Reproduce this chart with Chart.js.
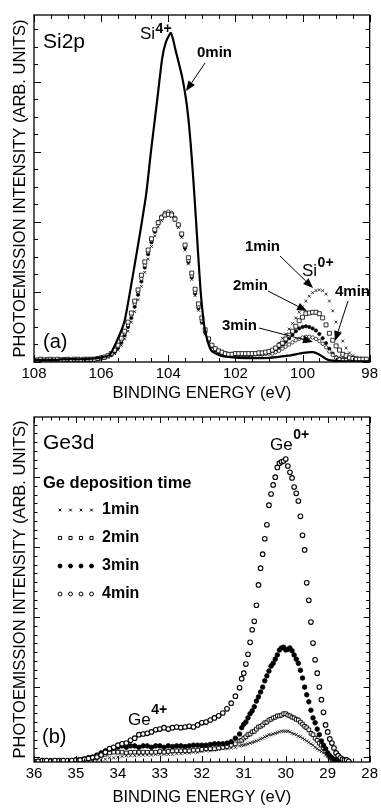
<!DOCTYPE html>
<html>
<head>
<meta charset="utf-8">
<title>Si2p / Ge3d photoemission</title>
<script src="https://cdn.jsdelivr.net/npm/chart.js@4.4.1/dist/chart.umd.min.js"></script>
<style>
  html, body { margin: 0; padding: 0; background: #fff; }
  canvas { display: block; }
</style>
</head>
<body>
<canvas id="si2p" width="381" height="405"></canvas>
<canvas id="ge3d" width="381" height="403"></canvas>
<script>
// ---------- panel (a): Si2p ----------
const siEnergy = [
  107.9, 107.8, 107.7, 107.6, 107.5, 107.4, 107.3, 107.2, 107.1, 107.0,
  106.9, 106.8, 106.7, 106.6, 106.5, 106.4, 106.3, 106.2, 106.1, 106.0,
  105.9, 105.8, 105.7, 105.6, 105.5, 105.4, 105.3, 105.2, 105.1, 105.0,
  104.9, 104.8, 104.7, 104.6, 104.5, 104.4, 104.3, 104.2, 104.1, 104.0,
  103.9, 103.8, 103.7, 103.6, 103.5, 103.4, 103.3, 103.2, 103.1, 103.0,
  102.9, 102.8, 102.7, 102.6, 102.5, 102.4, 102.3, 102.2, 102.1, 102.0,
  101.9, 101.8, 101.7, 101.6, 101.5, 101.4, 101.3, 101.2, 101.1, 101.0,
  100.9, 100.8, 100.7, 100.6, 100.5, 100.4, 100.3, 100.2, 100.1, 100.0,
  99.9, 99.8, 99.7, 99.6, 99.5, 99.4, 99.3, 99.2, 99.1, 99.0,
  98.9, 98.8, 98.7, 98.6, 98.5, 98.4, 98.3, 98.2, 98.1
];
const si1min = [
  0.03, 0.03, 0.04, 0.03, 0.03, 0.04, 0.03, 0.03, 0.04, 0.03,
  0.03, 0.04, 0.03, 0.03, 0.04, 0.03, 0.04, 0.04, 0.04, 0.05,
  0.06, 0.07, 0.09, 0.12, 0.17, 0.24, 0.33, 0.44, 0.57, 0.72,
  0.89, 1.08, 1.28, 1.47, 1.65, 1.80, 1.93, 2.02, 2.08, 2.10,
  2.08, 2.02, 1.92, 1.78, 1.60, 1.40, 1.18, 0.95, 0.74, 0.55,
  0.40, 0.29, 0.21, 0.16, 0.13, 0.12, 0.11, 0.10, 0.10, 0.10,
  0.10, 0.10, 0.10, 0.10, 0.11, 0.11, 0.11, 0.12, 0.13, 0.14,
  0.16, 0.21, 0.27, 0.34, 0.40, 0.47, 0.55, 0.63, 0.71, 0.79,
  0.87, 0.94, 0.99, 1.02, 1.03, 1.02, 0.97, 0.87, 0.73, 0.57,
  0.42, 0.30, 0.20, 0.13, 0.09, 0.07, 0.06, 0.05, 0.05
];
const si2min = [
  0.03, 0.04, 0.03, 0.03, 0.04, 0.03, 0.04, 0.03, 0.03, 0.04,
  0.03, 0.04, 0.04, 0.03, 0.04, 0.04, 0.04, 0.04, 0.05, 0.06,
  0.07, 0.09, 0.12, 0.17, 0.24, 0.34, 0.44, 0.57, 0.70, 0.87,
  1.03, 1.24, 1.43, 1.60, 1.76, 1.89, 1.99, 2.06, 2.10, 2.11,
  2.10, 2.04, 1.96, 1.83, 1.67, 1.49, 1.27, 1.04, 0.83, 0.63,
  0.46, 0.33, 0.24, 0.19, 0.16, 0.14, 0.12, 0.11, 0.11, 0.12,
  0.12, 0.12, 0.12, 0.12, 0.12, 0.12, 0.13, 0.13, 0.14, 0.15,
  0.17, 0.20, 0.24, 0.27, 0.33, 0.38, 0.44, 0.51, 0.59, 0.64,
  0.69, 0.70, 0.71, 0.71, 0.69, 0.63, 0.53, 0.41, 0.31, 0.23,
  0.17, 0.11, 0.09, 0.06, 0.05, 0.04, 0.04, 0.04, 0.04
];
const si3min = [
  0.02, 0.03, 0.03, 0.02, 0.03, 0.03, 0.02, 0.03, 0.03, 0.03,
  0.02, 0.03, 0.03, 0.03, 0.03, 0.03, 0.03, 0.04, 0.04, 0.05,
  0.06, 0.08, 0.10, 0.14, 0.20, 0.28, 0.38, 0.50, 0.63, 0.79,
  0.96, 1.15, 1.35, 1.54, 1.71, 1.86, 1.98, 2.07, 2.12, 2.14,
  2.12, 2.05, 1.95, 1.81, 1.63, 1.43, 1.21, 0.98, 0.77, 0.57,
  0.42, 0.30, 0.22, 0.17, 0.14, 0.12, 0.11, 0.10, 0.10, 0.10,
  0.10, 0.10, 0.10, 0.10, 0.10, 0.11, 0.11, 0.11, 0.12, 0.13,
  0.14, 0.17, 0.21, 0.25, 0.29, 0.34, 0.39, 0.44, 0.48, 0.50,
  0.51, 0.50, 0.48, 0.45, 0.40, 0.34, 0.27, 0.19, 0.12, 0.07,
  0.05, 0.04, 0.03, 0.03, 0.03, 0.03, 0.03, 0.03, 0.03
];
const si4min = [
  0.03, 0.03, 0.03, 0.04, 0.03, 0.03, 0.03, 0.03, 0.04, 0.03,
  0.03, 0.03, 0.04, 0.03, 0.03, 0.03, 0.04, 0.04, 0.05, 0.06,
  0.07, 0.09, 0.12, 0.16, 0.22, 0.31, 0.41, 0.53, 0.67, 0.83,
  1.00, 1.19, 1.38, 1.57, 1.74, 1.88, 2.00, 2.08, 2.13, 2.15,
  2.13, 2.06, 1.96, 1.82, 1.65, 1.45, 1.23, 1.00, 0.79, 0.59,
  0.43, 0.31, 0.23, 0.18, 0.15, 0.13, 0.12, 0.11, 0.11, 0.11,
  0.11, 0.11, 0.11, 0.11, 0.11, 0.11, 0.11, 0.11, 0.12, 0.12,
  0.12, 0.14, 0.16, 0.19, 0.22, 0.25, 0.28, 0.31, 0.33, 0.35,
  0.36, 0.36, 0.35, 0.33, 0.30, 0.26, 0.21, 0.15, 0.10, 0.06,
  0.04, 0.03, 0.03, 0.03, 0.03, 0.03, 0.03, 0.03, 0.03
];
// 0 min: solid line, read at irregular energies
const si0Energy = [108.0, 107.5, 107.0, 106.5, 106.05, 105.75, 105.54, 105.31, 105.13, 104.95,
  104.8, 104.66, 104.51, 104.33, 104.18, 104.07, 103.92, 103.77, 103.59, 103.47,
  103.38, 103.3, 103.21, 103.12, 103.03, 102.91, 102.73, 102.44, 101.9, 101.0,
  100.43, 99.98, 99.69, 99.48, 99.24, 98.8, 98.0];
const si0min = [0.03, 0.03, 0.04, 0.04, 0.06, 0.10, 0.29, 0.57, 1.03, 1.53,
  1.96, 2.39, 3.03, 3.74, 4.34, 4.57, 4.70, 4.43, 4.08, 3.75,
  3.38, 2.92, 2.30, 1.62, 0.98, 0.46, 0.17, 0.09, 0.06, 0.06,
  0.09, 0.13, 0.14, 0.10, 0.03, 0.01, 0.01];
const siTicks = [108, 106, 104, 102, 100, 98];

// ---------- panel (b): Ge3d ----------
const geEnergy = [
  36.0, 35.9, 35.8, 35.7, 35.6, 35.5, 35.4, 35.3, 35.2, 35.1,
  35.0, 34.9, 34.8, 34.7, 34.6, 34.5, 34.4, 34.3, 34.2, 34.1,
  34.0, 33.9, 33.8, 33.7, 33.6, 33.5, 33.4, 33.3, 33.2, 33.1,
  33.0, 32.9, 32.8, 32.7, 32.6, 32.5, 32.4, 32.3, 32.2, 32.1,
  32.0, 31.9, 31.8, 31.7, 31.6, 31.5, 31.4, 31.3, 31.2, 31.1,
  31.05, 31.0, 30.95, 30.9, 30.85, 30.8, 30.75, 30.7, 30.65, 30.6,
  30.55, 30.5, 30.45, 30.4, 30.35, 30.3, 30.25, 30.2, 30.15, 30.1,
  30.05, 30.0, 29.95, 29.9, 29.85, 29.8, 29.75, 29.7, 29.65, 29.6,
  29.55, 29.5, 29.45, 29.4, 29.35, 29.3, 29.25, 29.2, 29.15, 29.1,
  29.05, 29.0, 28.95, 28.9, 28.85, 28.8, 28.75, 28.7, 28.65, 28.6,
  28.55, 28.5
];
const ge1min = [
  0.01, 0.01, 0.01, 0.01, 0.01, 0.01, 0.01, 0.01, 0.01, 0.01,
  0.01, 0.01, 0.01, 0.01, 0.01, 0.01, 0.03, 0.04, 0.06, 0.06,
  0.07, 0.08, 0.09, 0.09, 0.09, 0.10, 0.10, 0.10, 0.10, 0.11,
  0.11, 0.11, 0.11, 0.11, 0.12, 0.12, 0.13, 0.13, 0.14, 0.14,
  0.15, 0.16, 0.16, 0.17, 0.18, 0.19, 0.19, 0.20, 0.21, 0.23,
  0.24, 0.24, 0.25, 0.26, 0.27, 0.28, 0.29, 0.30, 0.31, 0.33,
  0.34, 0.36, 0.37, 0.39, 0.39, 0.40, 0.41, 0.42, 0.43, 0.44,
  0.44, 0.44, 0.44, 0.43, 0.41, 0.40, 0.39, 0.37, 0.36, 0.34,
  0.32, 0.30, 0.28, 0.26, 0.24, 0.21, 0.19, 0.17, 0.15, 0.13,
  0.10, 0.08, 0.06, 0.04, 0.03, 0.02, 0.01, 0.01, 0.01, 0.01,
  0.01, 0.01
];
const ge2min = [
  0.01, 0.01, 0.01, 0.01, 0.01, 0.01, 0.01, 0.01, 0.01, 0.01,
  0.01, 0.03, 0.04, 0.06, 0.07, 0.09, 0.10, 0.11, 0.13, 0.14,
  0.14, 0.14, 0.13, 0.14, 0.14, 0.14, 0.14, 0.14, 0.14, 0.14,
  0.15, 0.14, 0.15, 0.16, 0.16, 0.16, 0.16, 0.16, 0.17, 0.17,
  0.18, 0.19, 0.19, 0.19, 0.20, 0.21, 0.22, 0.24, 0.26, 0.30,
  0.31, 0.34, 0.36, 0.39, 0.40, 0.43, 0.44, 0.47, 0.50, 0.51,
  0.53, 0.56, 0.57, 0.60, 0.61, 0.63, 0.64, 0.66, 0.66, 0.67,
  0.69, 0.69, 0.67, 0.66, 0.64, 0.63, 0.61, 0.60, 0.57, 0.54,
  0.51, 0.49, 0.46, 0.41, 0.39, 0.34, 0.31, 0.27, 0.24, 0.20,
  0.16, 0.11, 0.07, 0.04, 0.03, 0.02, 0.01, 0.01, 0.01, 0.01,
  0.01, 0.01
];
const ge3min = [
  0.01, 0.01, 0.02, 0.01, 0.02, 0.01, 0.02, 0.02, 0.01, 0.02,
  0.02, 0.03, 0.04, 0.06, 0.07, 0.10, 0.13, 0.16, 0.19, 0.20,
  0.21, 0.23, 0.21, 0.23, 0.23, 0.21, 0.23, 0.23, 0.21, 0.23,
  0.23, 0.21, 0.23, 0.22, 0.23, 0.23, 0.22, 0.23, 0.24, 0.24,
  0.24, 0.24, 0.25, 0.26, 0.26, 0.26, 0.27, 0.29, 0.34, 0.40,
  0.49, 0.54, 0.57, 0.63, 0.69, 0.73, 0.79, 0.87, 0.93, 1.00,
  1.07, 1.16, 1.23, 1.30, 1.37, 1.41, 1.47, 1.53, 1.60, 1.63,
  1.64, 1.60, 1.61, 1.63, 1.59, 1.53, 1.47, 1.41, 1.31, 1.20,
  1.07, 0.96, 0.86, 0.74, 0.63, 0.56, 0.47, 0.39, 0.30, 0.24,
  0.19, 0.13, 0.09, 0.06, 0.04, 0.03, 0.02, 0.02, 0.02, 0.01,
  0.01, 0.01
];
const ge4min = [
  0.01, 0.01, 0.02, 0.02, 0.01, 0.02, 0.02, 0.02, 0.02, 0.02,
  0.03, 0.03, 0.04, 0.05, 0.06, 0.07, 0.10, 0.14, 0.19, 0.21,
  0.24, 0.26, 0.27, 0.31, 0.34, 0.39, 0.40, 0.41, 0.43, 0.46,
  0.47, 0.49, 0.47, 0.49, 0.50, 0.49, 0.50, 0.51, 0.50, 0.53,
  0.56, 0.57, 0.60, 0.63, 0.66, 0.70, 0.76, 0.84, 0.94, 1.06,
  1.19, 1.27, 1.40, 1.54, 1.71, 1.89, 2.01, 2.24, 2.53, 2.77,
  2.97, 3.19, 3.39, 3.67, 3.83, 3.96, 4.07, 4.21, 4.27, 4.29,
  4.30, 4.33, 4.23, 4.14, 4.06, 3.93, 3.84, 3.73, 3.51, 3.24,
  3.03, 2.56, 2.31, 2.00, 1.70, 1.46, 1.27, 1.07, 0.89, 0.71,
  0.53, 0.43, 0.33, 0.27, 0.20, 0.13, 0.09, 0.06, 0.04, 0.03,
  0.03, 0.01
];
const geTicks = [36, 35, 34, 33, 32, 31, 30, 29, 28];

const FONT = "'Liberation Sans', Arial, Helvetica, sans-serif";
Chart.defaults.font.family = FONT;
Chart.defaults.color = '#000';

const pts = (xs, ys) => xs.map((x, i) => ({ x: x, y: ys[i] }));

function tickValues(min, max, step, start) {
  const out = [];
  for (let k = Math.ceil((min - start) / step - 1e-6); start + k * step <= max + 1e-6; k++) {
    out.push(start + k * step);
  }
  return out;
}

// box frame with inward ticks on all four sides
const framePlugin = {
  id: 'frame',
  afterDatasetsDraw(chart, args, o) {
    const { ctx, chartArea: a } = chart;
    const xs = chart.scales.x, ys = chart.scales.y;
    const isMajor = (v, start, major) => {
      const r = (v - start) / major;
      return Math.abs(r - Math.round(r)) < 1e-6;
    };
    ctx.save();
    ctx.strokeStyle = '#000';
    ctx.lineWidth = 1;
    ctx.beginPath();
    tickValues(xs.min, xs.max, o.xMinor, o.xStart).forEach(v => {
      const p = Math.round(xs.getPixelForValue(v)) + 0.5;
      const len = isMajor(v, o.xStart, o.xMajor) ? o.majorLen : o.minorLen;
      ctx.moveTo(p, a.bottom); ctx.lineTo(p, a.bottom - len);
      ctx.moveTo(p, a.top); ctx.lineTo(p, a.top + len);
    });
    tickValues(ys.min, ys.max, o.yMinor, o.yStart).forEach(v => {
      const p = Math.round(ys.getPixelForValue(v)) + 0.5;
      const len = isMajor(v, o.yStart, o.yMajor) ? o.majorLen : o.minorLen;
      ctx.moveTo(a.left, p); ctx.lineTo(a.left + len, p);
      ctx.moveTo(a.right, p); ctx.lineTo(a.right - len, p);
    });
    ctx.stroke();
    ctx.lineWidth = 1.3;
    ctx.strokeRect(a.left, a.top, a.right - a.left, a.bottom - a.top);
    ctx.restore();
  }
};

function drawArrow(ctx, x1, y1, x2, y2) {
  const ang = Math.atan2(y2 - y1, x2 - x1), L = 10, W = 4;
  const bx = x2 - L * Math.cos(ang), by = y2 - L * Math.sin(ang);
  ctx.lineWidth = 1;
  ctx.beginPath();
  ctx.moveTo(x1, y1); ctx.lineTo(bx, by);
  ctx.stroke();
  ctx.beginPath();
  ctx.moveTo(x2, y2);
  ctx.lineTo(bx + W * Math.sin(ang), by - W * Math.cos(ang));
  ctx.lineTo(bx - W * Math.sin(ang), by + W * Math.cos(ang));
  ctx.closePath();
  ctx.fill();
}

function drawText(ctx, l) {
  ctx.textAlign = 'left';
  ctx.textBaseline = 'middle';
  ctx.font = (l.bold ? 'bold ' : '') + l.size + 'px ' + FONT;
  ctx.fillText(l.text, l.x, l.y);
  if (l.sup) {
    const w = ctx.measureText(l.text).width;
    ctx.font = (l.supBold ? 'bold ' : '') + l.supSize + 'px ' + FONT;
    ctx.fillText(l.sup, l.x + w + 0.5, l.y - l.raise);
  }
}

// labels, arrows and the little marker legend
const notesPlugin = {
  id: 'notes',
  afterDraw(chart, args, o) {
    const ctx = chart.ctx;
    ctx.save();
    ctx.fillStyle = '#000';
    ctx.strokeStyle = '#000';
    (o.arrows || []).forEach(a => drawArrow(ctx, a[0], a[1], a[2], a[3]));
    (o.labels || []).forEach(l => drawText(ctx, l));
    if (o.legend) {
      const g = o.legend;
      chart.data.datasets.forEach((ds, i) => {
        const y = g.y + i * g.dy;
        ctx.fillStyle = ds.pointBackgroundColor;
        ctx.strokeStyle = ds.pointBorderColor;
        for (let k = 0; k < 4; k++) {
          Chart.helpers.drawPoint(ctx, {
            pointStyle: ds.pointStyle, radius: ds.pointRadius * 0.85,
            borderWidth: ds.pointBorderWidth, rotation: 0
          }, g.x + k * g.step, y);
        }
        ctx.fillStyle = '#000';
        drawText(ctx, { text: ds.label, x: g.textX, y: y, size: g.size, bold: true });
      });
    }
    ctx.restore();
  }
};

function markers(label, xs, ys, style, r, fill, bw) {
  return {
    label: label, data: pts(xs, ys), showLine: false,
    pointStyle: style, pointRadius: r, pointHoverRadius: r,
    pointBackgroundColor: fill, pointBorderColor: '#000', pointBorderWidth: bw
  };
}

function xAxis(min, max, tickList, height, titlePad) {
  return {
    type: 'linear', min: min, max: max, reverse: true,
    afterBuildTicks: s => { s.ticks = tickList.map(v => ({ value: v })); },
    ticks: { font: { size: 15 }, color: '#000', padding: 3, maxRotation: 0, autoSkip: false },
    grid: { display: false, drawTicks: false },
    border: { display: false },
    title: { display: true, text: 'BINDING ENERGY (eV)', color: '#000',
      font: { size: 16.5 }, padding: { top: 0, bottom: titlePad } },
    afterFit: s => { s.height = height; }
  };
}

function yAxis(max) {
  return {
    type: 'linear', min: 0, max: max,
    ticks: { display: false },
    grid: { display: false, drawTicks: false },
    border: { display: false },
    title: { display: true, text: 'PHOTOEMISSION INTENSITY (ARB. UNITS)', color: '#000',
      font: { size: 16.5 }, padding: { top: 11, bottom: 0 } },
    afterFit: s => { s.width = 34; }
  };
}

// ---- chart (a)
new Chart(document.getElementById('si2p'), {
  type: 'scatter',
  data: {
    datasets: [
      { label: '0min', data: pts(si0Energy, si0min), showLine: true, borderColor: '#000',
        borderWidth: 2.2, pointRadius: 0, tension: 0.2, order: 0 },
      Object.assign(markers('1min', siEnergy, si1min, 'crossRot', 2, '#000', 0.8), { order: 4 }),
      Object.assign(markers('2min', siEnergy, si2min, 'rect', 2.8, '#fff', 0.8), { order: 1 }),
      Object.assign(markers('3min', siEnergy, si3min, 'circle', 1.7, '#000', 0.6), { order: 3 }),
      Object.assign(markers('4min', siEnergy, si4min, 'circle', 1.7, '#fff', 0.7), { order: 2 })
    ]
  },
  options: {
    responsive: false, animation: false, events: [],
    layout: { padding: { left: 0, right: 9, top: 15, bottom: 0 } },
    scales: { x: xAxis(98, 108, siTicks, 43, 2), y: yAxis(4.957) },
    plugins: {
      legend: { display: false }, tooltip: { enabled: false },
      frame: { xMinor: 0.5, xMajor: 2, xStart: 98, yMinor: 0.25, yMajor: 1, yStart: 0,
        majorLen: 7, minorLen: 4 },
      notes: {
        arrows: [[205, 63, 186, 91], [280, 256, 313, 288], [268, 291, 307, 311],
                 [348, 301, 335, 341], [259, 328, 313, 342]],
        labels: [
          { text: 'Si2p', x: 43, y: 42, size: 21 },
          { text: '(a)', x: 43, y: 342, size: 20 },
          { text: 'Si', sup: '4+', x: 140, y: 34, size: 17, supSize: 14, supBold: true, raise: 5 },
          { text: 'Si', sup: '0+', x: 302, y: 271, size: 17, supSize: 14, supBold: true, raise: 8 },
          { text: '0min', x: 197, y: 53, size: 15, bold: true },
          { text: '1min', x: 245, y: 247, size: 15, bold: true },
          { text: '2min', x: 233, y: 286, size: 15, bold: true },
          { text: '4min', x: 335, y: 292, size: 15, bold: true },
          { text: '3min', x: 222, y: 326, size: 15, bold: true }
        ]
      }
    }
  },
  plugins: [framePlugin, notesPlugin]
});

// ---- chart (b)
new Chart(document.getElementById('ge3d'), {
  type: 'scatter',
  data: {
    datasets: [
      Object.assign(markers('1min', geEnergy, ge1min, 'crossRot', 2.2, '#000', 0.8), { order: 4 }),
      Object.assign(markers('2min', geEnergy, ge2min, 'rect', 2.6, '#fff', 0.9), { order: 3 }),
      Object.assign(markers('3min', geEnergy, ge3min, 'circle', 2.3, '#000', 0.8), { order: 2 }),
      Object.assign(markers('4min', geEnergy, ge4min, 'circle', 2.3, '#fff', 1.1), { order: 1 })
    ]
  },
  options: {
    responsive: false, animation: false, events: [],
    layout: { padding: { left: 0, right: 11, top: 12, bottom: 0 } },
    scales: { x: xAxis(28, 36, geTicks, 46, 1), y: yAxis(4.93) },
    plugins: {
      legend: { display: false }, tooltip: { enabled: false },
      frame: { xMinor: 0.2, xMajor: 1, xStart: 28, yMinor: 0.125, yMajor: 1, yStart: 0.07,
        majorLen: 6, minorLen: 3.5 },
      notes: {
        labels: [
          { text: 'Ge3d', x: 43, y: 38, size: 21 },
          { text: '(b)', x: 42, y: 332, size: 20 },
          { text: 'Ge', sup: '0+', x: 270, y: 40, size: 17, supSize: 14, supBold: true, raise: 10 },
          { text: 'Ge', sup: '4+', x: 128, y: 315, size: 17, supSize: 14, supBold: true, raise: 10 },
          { text: 'Ge deposition time', x: 43, y: 78, size: 16.5, bold: true }
        ],
        legend: { x: 60, step: 10.5, textX: 102, y: 105, dy: 28, size: 16 }
      }
    }
  },
  plugins: [framePlugin, notesPlugin]
});
</script>
</body>
</html>
